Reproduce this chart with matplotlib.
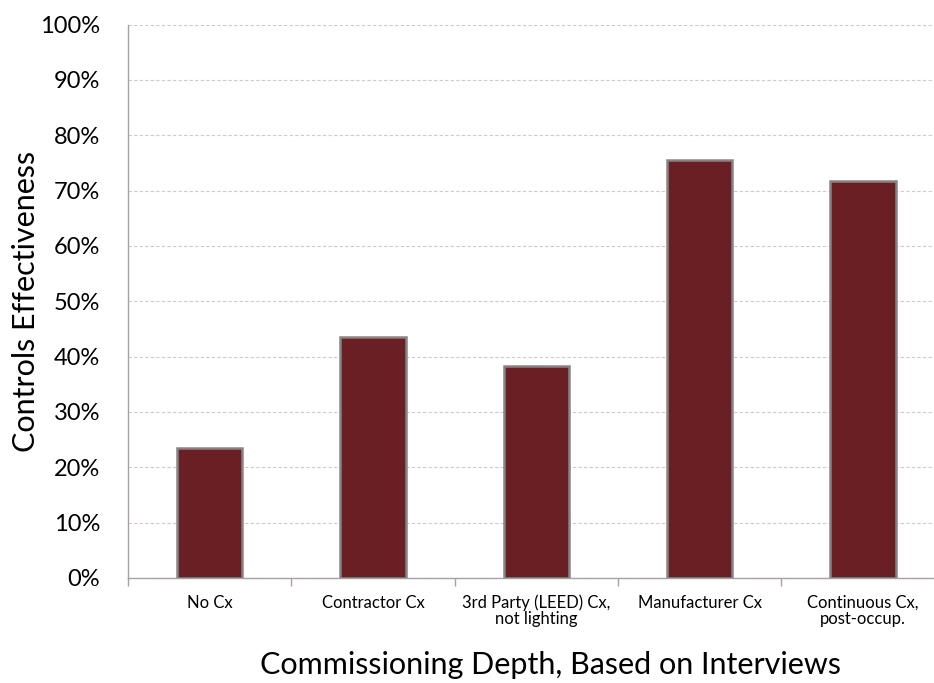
import matplotlib
matplotlib.use("Agg")
import matplotlib.pyplot as plt
from matplotlib.ticker import PercentFormatter

categories = ["No Cx", "Contractor Cx", "3rd Party (LEED) Cx,\nnot lighting",
              "Manufacturer Cx", "Continuous Cx,\npost-occup."]
values = [23.4, 43.6, 38.3, 75.5, 71.7]
yticks = [0, 10, 20, 30, 40, 50, 60, 70, 80, 90, 100]

plt.rcParams['font.family'] = ['Lato', 'DejaVu Sans']

fig = plt.figure(figsize=(9.34, 6.83), dpi=100)
ax = fig.add_axes([128/934, 105/683, 816.5/934, 553.5/683])

x = list(range(len(categories)))
ax.bar(x, values, width=0.4, color="#6A1F24", edgecolor="#858585", linewidth=1.8, zorder=3)

ax.set_xlim(-0.5, len(categories) - 0.5)
ax.set_ylim(0, 100)
ax.set_yticks(yticks)
ax.yaxis.set_major_formatter(PercentFormatter(decimals=0))
ax.tick_params(axis='y', length=0, labelsize=17, pad=20)

ax.set_xticks([i - 0.5 for i in range(len(categories) + 1)])
ax.set_xticklabels([])
ax.set_xticks(x, minor=True)
ax.set_xticklabels(categories, minor=True, fontsize=12, linespacing=1.0)
ax.tick_params(axis='x', which='minor', length=0, pad=12)
ax.tick_params(axis='x', which='major', length=6, color="#a8a0a4", width=1)

ax.grid(axis='y', color="#d4c8ce", linestyle=(0, (3, 2)), linewidth=0.8, zorder=0)
for s in ['top', 'right']:
    ax.spines[s].set_visible(False)
for s in ['left', 'bottom']:
    ax.spines[s].set_color("#a8a0a4")
    ax.spines[s].set_linewidth(1)

ax.set_ylabel("Controls Effectiveness", fontsize=22)
ax.yaxis.set_label_coords((40 - 128) / 816.5, 0.5)
ax.set_xlabel("Commissioning Depth, Based on Interviews", fontsize=22)
ax.xaxis.set_label_coords((550 - 128) / 816.5, -0.132)

fig.savefig("out.png", dpi=100)
